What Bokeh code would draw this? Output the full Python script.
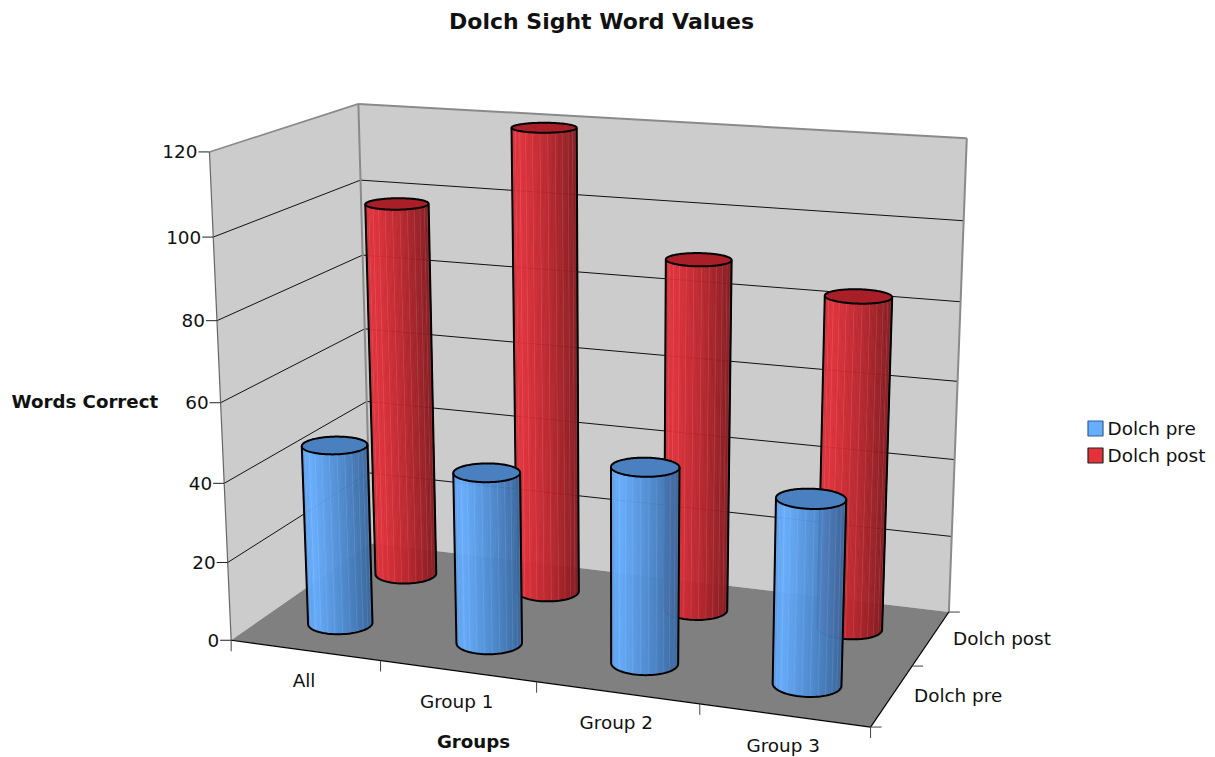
import numpy as np
from bokeh.plotting import figure
from bokeh.core.properties import value
from bokeh.embed import file_html
from bokeh.resources import INLINE

title = "Dolch Sight Word Values"
categories = ["All", "Group 1", "Group 2", "Group 3"]
series_names = ["Dolch pre", "Dolch post"]
dolch_pre = [46, 43.2, 48.7, 45.3]
dolch_post = [98.5, 120, 90, 84]
value_ticks = [0, 20, 40, 60, 80, 100, 120]
y_title = "Words Correct"
x_title = "Groups"

FONT = value("DejaVu Sans")
W, H = 1215, 757
p = figure(width=W, height=H, x_range=(0, W), y_range=(H, 0),
           x_axis_type=None, y_axis_type=None, min_border=0, outline_line_color=None,
           toolbar_location=None, output_backend="svg", tools="")
p.grid.visible = False
p.background_fill_color = "white"
p.border_fill_color = "white"

# camera: maps (category position, value, series depth) to the page
cal_world = [(0, 0, 0), (4, 0, 0), (0, 0, 2), (4, 0, 2), (0, 120, 2), (4, 120, 2), (0, 120, 0),
             (0, 60, 0), (4, 60, 2), (0, 100, 2), (4, 100, 2), (0, 20, 0)]
cal_page = [(230, 640), (870, 727), (371, 543), (948, 611), (357, 103), (966, 138), (210, 152),
            (219, 401), (957, 381), (360, 180), (964, 220), (228, 562)]
A = []
for (X, Y, Z), (u, v) in zip(cal_world, cal_page):
    A.append([X, Y, Z, 1, 0, 0, 0, 0, -u * X, -u * Y, -u * Z, -u])
    A.append([0, 0, 0, 0, X, Y, Z, 1, -v * X, -v * Y, -v * Z, -v])
CAM = np.linalg.svd(np.array(A, float))[2][-1].reshape(3, 4)


def pr(X, Y, Z):
    X, Y, Z = np.broadcast_arrays(np.asarray(X, float), np.asarray(Y, float), np.asarray(Z, float))
    w = np.stack([X, Y, Z, np.ones_like(X)])
    o = CAM @ w.reshape(4, -1)
    return (o[0] / o[2]).reshape(X.shape), (o[1] / o[2]).reshape(X.shape)


def poly(pts, **kw):
    x, y = pr(*zip(*pts))
    p.patch(list(x), list(y), **kw)


def seg(a, b, color="black", width=1.0):
    x, y = pr(*zip(a, b))
    p.line(list(x), list(y), line_color=color, line_width=width)


WALL, FLOOR, EDGE = "#cccccc", "#808080", "#8a8a8a"
YMAX = value_ticks[-1]
NX, NZ = len(categories), len(series_names)
poly([(0, 0, NZ), (NX, 0, NZ), (NX, YMAX, NZ), (0, YMAX, NZ)], fill_color=WALL, line_color=None)
poly([(0, 0, 0), (0, 0, NZ), (0, YMAX, NZ), (0, YMAX, 0)], fill_color=WALL, line_color=None)
poly([(0, 0, 0), (NX, 0, 0), (NX, 0, NZ), (0, 0, NZ)], fill_color=FLOOR, line_color=None)

for v in value_ticks[1:-1]:
    seg((0, v, 0), (0, v, NZ), "#111111", 1)
    seg((0, v, NZ), (NX, v, NZ), "#111111", 1)
seg((0, 0, 0), (0, YMAX, 0), "#666666", 1.2)
seg((0, YMAX, 0), (0, YMAX, NZ), EDGE, 1.6)
seg((0, 0, NZ), (0, YMAX, NZ), EDGE, 2)
seg((0, YMAX, NZ), (NX, YMAX, NZ), EDGE, 2)
seg((NX, 0, NZ), (NX, YMAX, NZ), EDGE, 2)
seg((0, 0, 0), (NX, 0, 0), "black", 1.2)
seg((NX, 0, 0), (NX, 0, NZ), "black", 1.2)

BLUE = dict(stops=[(0, "#5a9ce8"), (.12, "#66aeff"), (.55, "#4f8dd4"), (1, "#3a689f")], top="#4a80bf")
RED = dict(stops=[(0, "#d42f38"), (.12, "#e2303a"), (.55, "#bb252d"), (1, "#861a20")], top="#a81f28")


def shade(stops, f):
    at = [s[0] for s in stops]
    rgb = [[int(s[1][i:i + 2], 16) for i in (1, 3, 5)] for s in stops]
    return "#%02x%02x%02x" % tuple(int(np.interp(f, at, [c[k] for c in rgb])) for k in range(3))


RX, RZ = 0.20, 0.194
N = 160


def cylinder(cx, cz, val, look):
    t = np.linspace(0, 2 * np.pi, N, endpoint=False)
    X, Z = cx + RX * np.cos(t), cz + RZ * np.sin(t)
    bx, by = pr(X, 0 * X, Z)
    tx, ty = pr(X, 0 * X + val, Z)
    il, ir = int(np.argmin(tx)), int(np.argmax(tx))
    idx = [(il + k) % N for k in range((ir - il) % N + 1)]
    idx = idx[::2] + ([idx[-1]] if (len(idx) - 1) % 2 else [])
    xs, ys, cols = [], [], []
    for a, b in zip(idx[:-1], idx[1:]):
        xs.append([bx[a], bx[b], tx[b], tx[a]])
        ys.append([by[a], by[b], ty[b], ty[a]])
        cols.append(shade(look["stops"], ((tx[a] + tx[b]) / 2 - tx[il]) / (tx[ir] - tx[il])))
    p.patches(xs, ys, fill_color=cols, fill_alpha=0.96, line_color=cols, line_width=0.6, line_alpha=0.96)
    sx = [[bx[i], tx[i]] for i in idx[3:-2:3]]
    sy = [[by[i], ty[i]] for i in idx[3:-2:3]]
    p.multi_line(sx, sy, line_color="white", line_alpha=0.13, line_width=0.8)
    p.patch(list(tx), list(ty), fill_color=look["top"], line_color=None)
    ox = [tx[idx[0]]] + [bx[i] for i in idx] + [tx[idx[-1]]]
    oy = [ty[idx[0]]] + [by[i] for i in idx] + [ty[idx[-1]]]
    p.line(ox, oy, line_color="black", line_width=2, line_join="round")
    p.line(list(tx) + [tx[0]], list(ty) + [ty[0]], line_color="black", line_width=2, line_join="round")


for i, v in enumerate(dolch_post):
    cylinder(i + .488, 1.5, v, RED)
for i, v in enumerate(dolch_pre):
    cylinder(i + .494, .5, v, BLUE)


def label(x, y, s, size="18.4px", align="left", style="normal"):
    p.text([x], [y], text=[s], text_font=FONT, text_font_size=size, text_align=align,
           text_baseline="middle", text_font_style=style, text_color="#111111")


TICK = 11
for v in value_ticks:
    x, y = pr(0, v, 0)
    x, y = float(x), float(y)
    p.segment([x - TICK], [y], [x], [y], line_color="#222222", line_width=1)
    label(x - TICK - 1, y, str(v), align="right")
for i in range(NX + 1):
    x, y = pr(i, 0, 0)
    x, y = float(x), float(y)
    p.segment([x], [y], [x], [y + TICK], line_color="#444444", line_width=1)
for i, c in enumerate(categories):
    x, y = pr(i + .5, 0, 0)
    label(float(x) - 1, float(y) + 30, c, align="center")
for k in range(NZ + 1):
    x, y = pr(NX, 0, k)
    x, y = float(x), float(y)
    p.segment([x], [y], [x + TICK], [y], line_color="#444444", line_width=1)
for k, s in enumerate(series_names):
    x, y = pr(NX, 0, k + .5)
    label(float(x) + 22, float(y), s)

label(601, 21, title, "22px", "center", "bold")
label(11, 401, y_title, "18.2px", "left", "bold")
label(473, 741, x_title, "18.2px", "center", "bold")

for yy, s, look, edge in [(428, series_names[0], "#66aeff", "#2f5f97"), (455, series_names[1], "#e5323a", "#222222")]:
    p.rect([1095], [yy], 15, 15, fill_color=look, line_color=edge, line_width=1.2)
    label(1107, yy, s)

open("out.html", "w").write(file_html(p, INLINE))
